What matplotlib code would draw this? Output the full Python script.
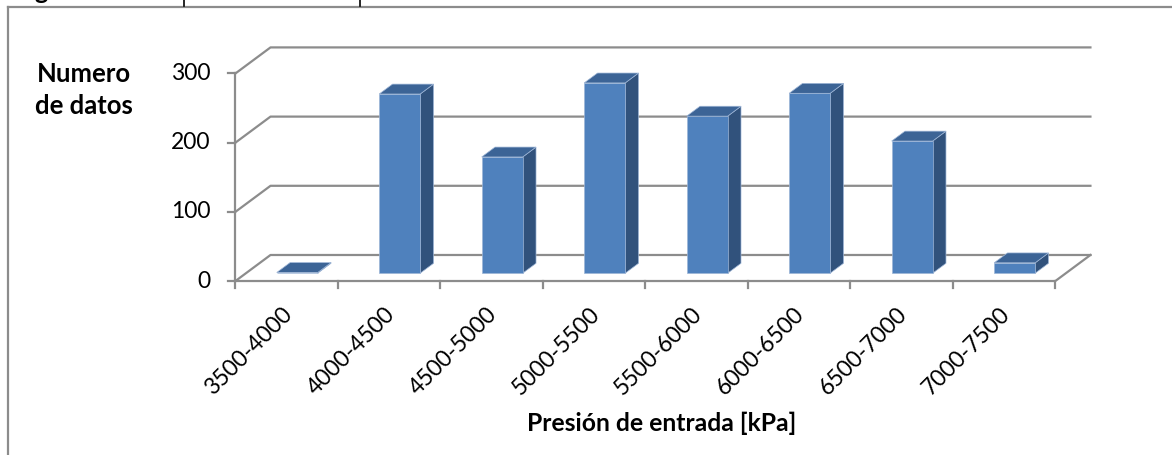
import numpy as np
import matplotlib.pyplot as plt
from matplotlib.patches import Polygon
from matplotlib.transforms import offset_copy

plt.rcParams['font.family'] = ['Lato', 'DejaVu Sans']

# Datos del histograma
categorias = ['3500-4000', '4000-4500', '4500-5000', '5000-5500',
              '5500-6000', '6000-6500', '6500-7000', '7000-7500']
num_datos = [1, 259, 168, 275, 227, 260, 191, 15]
valores_eje_y = [0, 100, 200, 300]

# Perspectiva (en unidades de los ejes)
prof_x = 0.342      # desplazamiento horizontal de la pared del fondo
prof_y = 37.6       # desplazamiento vertical de la pared del fondo
ancho_barra = 0.4
f_frente, f_fondo = 0.30, 0.68   # profundidad de las barras (fraccion)

gris = '#8C8C8C'
c_frente = '#4F81BD'
c_lado = '#31527C'
c_arriba = '#3C6496'

fig = plt.figure(figsize=(11.72, 4.55), dpi=100)
ax = fig.add_axes([0.2009, 0.3824, 0.7295, 0.5134])
n = len(categorias)
ax.set_xlim(0, n + prof_x)
ax.set_ylim(0, valores_eje_y[-1] + prof_y)
ax.axis('off')

# Paredes: lineas de la cuadricula (pared izquierda + fondo)
for v in valores_eje_y:
    ax.plot([0, prof_x, n + prof_x], [v, v + prof_y, v + prof_y],
            color=gris, lw=1.6, clip_on=False, zorder=1)
# Suelo
ax.plot([0, n, n + prof_x], [0, 0, prof_y], color=gris, lw=1.6, clip_on=False, zorder=1)
# Eje vertical
ax.plot([0, 0], [0, valores_eje_y[-1]], color=gris, lw=1.6, clip_on=False, zorder=1)

# Marcas del eje y y etiquetas
for v in valores_eje_y:
    ax.plot([-0.068, 0], [v, v], color=gris, lw=1.6, clip_on=False)
    tr = offset_copy(ax.transData, fig=fig, x=-25, y=0, units='dots')
    ax.text(0, v, str(v), transform=tr, ha='right', va='center', fontsize=16.5)

# Marcas del eje x y etiquetas
for i in range(n + 1):
    ax.plot([i, i], [0, -10], color=gris, lw=1.6, clip_on=False)
for i, cat in enumerate(categorias):
    tr = offset_copy(ax.transData, fig=fig, x=2, y=-30, units='dots')
    ax.text(i + 0.5, 0, cat, transform=tr, ha='right', va='center',
            rotation=45, rotation_mode='anchor', fontsize=16.5)

# Barras 3D
ddx = (f_fondo - f_frente) * prof_x
ddy = (f_fondo - f_frente) * prof_y
for i, v in enumerate(num_datos):
    x0 = i + 0.5 - ancho_barra / 2 + f_frente * prof_x
    x1 = x0 + ancho_barra
    y0 = f_frente * prof_y
    y1 = y0 + v
    lado = [(x1, y0), (x1 + ddx, y0 + ddy), (x1 + ddx, y1 + ddy), (x1, y1)]
    arriba = [(x0, y1), (x1, y1), (x1 + ddx, y1 + ddy), (x0 + ddx, y1 + ddy)]
    frente = [(x0, y0), (x1, y0), (x1, y1), (x0, y1)]
    for pts, c in [(lado, c_lado), (arriba, c_arriba), (frente, c_frente)]:
        ax.add_patch(Polygon(pts, closed=True, facecolor=c, edgecolor='#9DB5D6',
                             lw=0.5, clip_on=False, zorder=3))

# Titulos de los ejes
fig.text(84 / 1172, 1 - 90 / 455, 'Numero\nde datos', ha='center', va='center',
         fontsize=18.5, fontweight='bold', linespacing=1.35)
fig.text(662 / 1172, 1 - 423 / 455, 'Presión de entrada [kPa]', ha='center', va='center',
         fontsize=17.8, fontweight='bold')

# Marco del grafico y restos de la pagina
fig.add_artist(plt.Line2D([8 / 1172, 1], [1 - 6.5 / 455] * 2, color=gris, lw=1.6))
fig.add_artist(plt.Line2D([8 / 1172] * 2, [0, 1 - 6.5 / 455], color=gris, lw=1.6))
for xp in [184, 360]:
    fig.add_artist(plt.Line2D([xp / 1172] * 2, [1 - 6 / 455, 1], color='black', lw=1.2))
fig.text(34 / 1172, 1 + 1 / 455, 'g', ha='left', va='baseline', fontsize=18, fontweight='bold')

fig.savefig('out.png', dpi=100)
